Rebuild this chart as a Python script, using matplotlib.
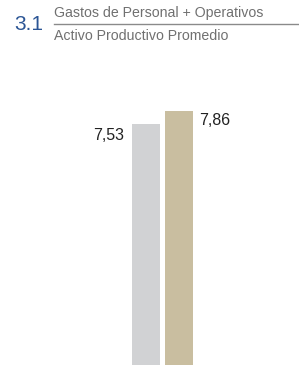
import matplotlib.pyplot as plt
from matplotlib.lines import Line2D

plt.rcParams['font.family'] = ['Liberation Sans', 'DejaVu Sans']

categories = ["Anterior", "Actual"]
values = [7.53, 7.86]
value_labels = ["7,53", "7,86"]
colors = ["#d1d2d4", "#c9bea0"]

W, H = 299, 365
fig = plt.figure(figsize=(W / 100, H / 100), dpi=100)

# axes extends below the figure so the bars look cut off at the bottom
ax_left, ax_right = 120 / W, 205 / W
y_zero = 421  # px from top where value 0 sits
y_top = 111   # px from top where 7.86 sits
ax = fig.add_axes([ax_left, (H - y_zero) / H, ax_right - ax_left, (y_zero - y_top) / H])
x = [0.5, 1.5]
ax.bar(x, values, width=0.847, color=colors)
ax.set_xlim(-0.301, 2.299)
ax.set_ylim(0, values[1])
ax.axis("off")

ax.text(-0.19, values[0] - 0.28, value_labels[0], ha="right", va="center",
        fontsize=11.5, color="#222222")
ax.text(2.12, values[1] - 0.23, value_labels[1], ha="left", va="center",
        fontsize=11.5, color="#222222")

# title block
fig.text(14 / W, 1 - 24.5 / H, "3.1", fontsize=15, color="#2b5595", va="center", ha="left")
fig.text(54 / W, 1 - 13 / H, "Gastos de Personal + Operativos", fontsize=10.2,
         color="#707070", va="center", ha="left")
fig.text(54 / W, 1 - 36.5 / H, "Activo Productivo Promedio", fontsize=10.2,
         color="#707070", va="center", ha="left")
fig.add_artist(Line2D([54 / W, 299 / W], [1 - 24 / H, 1 - 24 / H],
                      color="#8a8a8a", lw=1.0, transform=fig.transFigure))

fig.savefig("out.png", dpi=100)
